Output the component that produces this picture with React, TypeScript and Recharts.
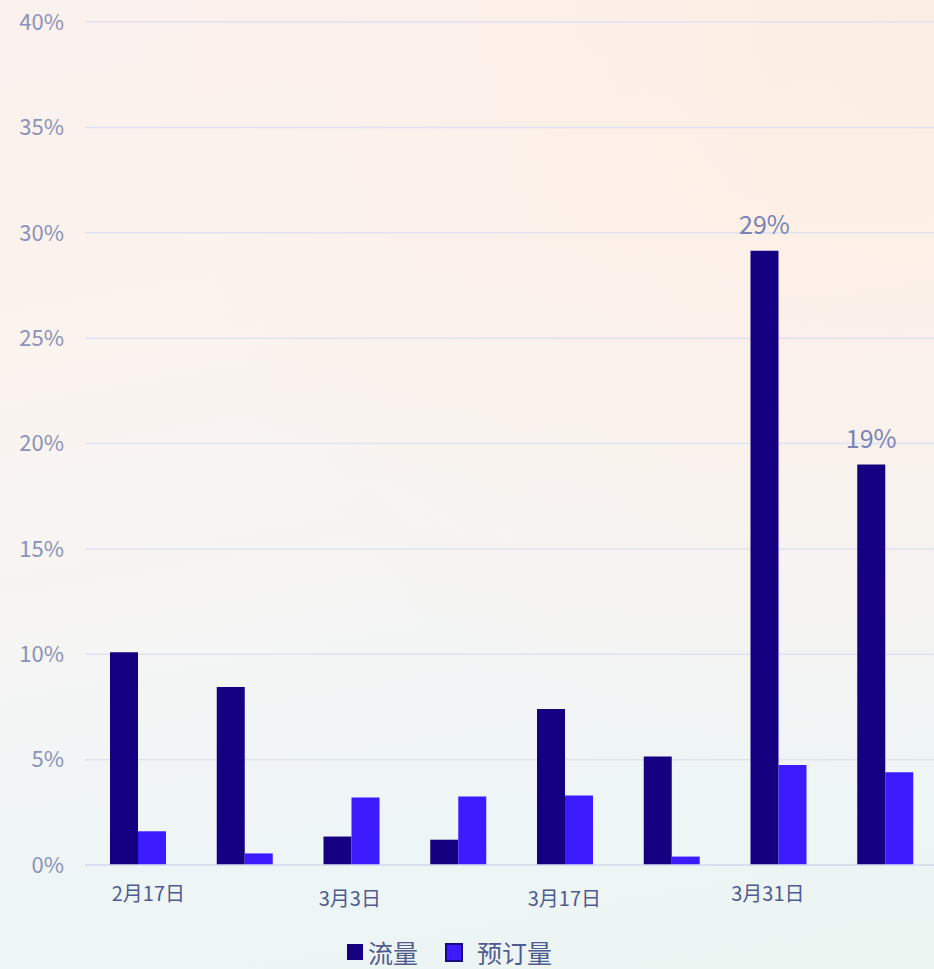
import React from "react";
import { BarChart, Bar, XAxis, YAxis, CartesianGrid, LabelList } from "recharts";

const categories = ["2月17日", "2月24日", "3月3日", "3月10日", "3月17日", "3月24日", "3月31日", "4月7日"];
const traffic = [10.1, 8.45, 1.35, 1.2, 7.4, 5.15, 29.15, 19.0];
const bookings = [1.6, 0.55, 3.2, 3.25, 3.3, 0.4, 4.75, 4.4];
const trafficLabels = ["", "", "", "", "", "", "29%", "19%"];
const yTicks = [0, 5, 10, 15, 20, 25, 30, 35, 40];
const seriesNames = ["流量", "预订量"];

const data = categories.map((c, i) => ({
  name: c,
  traffic: traffic[i],
  bookings: bookings[i],
  label: trafficLabels[i],
}));

const FONT = '"Noto Sans CJK SC", "Noto Sans", sans-serif';
const DARK = "#140080";
const LIGHT = "#3c1cff";

const tickShift: Record<string, { dx: number; dy: number }> = {
  "2月17日": { dx: 10, dy: 0 },
  "3月3日": { dx: -2, dy: 5 },
  "3月17日": { dx: -1, dy: 5 },
  "3月31日": { dx: -11, dy: 0 },
};

const XTick = (props: any) => {
  const { x, y, payload } = props;
  const s = tickShift[payload.value] || { dx: 0, dy: 0 };
  return (
    <text
      x={x + s.dx}
      y={y + 28 + s.dy}
      textAnchor="middle"
      fill="#4f5c90"
      fontSize={20}
      fontFamily={FONT}
    >
      {payload.value}
    </text>
  );
};

const LegendBox = () => (
  <div
    style={{
      position: "absolute",
      left: 347,
      top: 938,
      height: 28,
      display: "flex",
      alignItems: "center",
      fontFamily: FONT,
      fontSize: 25,
      color: "#4f5c90",
      lineHeight: "28px",
    }}
  >
    <span style={{ width: 16, height: 16, background: DARK, display: "inline-block", marginRight: 5 }} />
    <span>{seriesNames[0]}</span>
    <span
      style={{
        width: 14,
        height: 15,
        background: LIGHT,
        border: "2px solid #1a0a80",
        display: "inline-block",
        marginLeft: 27,
        marginRight: 14,
      }}
    />
    <span>{seriesNames[1]}</span>
  </div>
);

export default function App() {
  return (
    <div
      style={{
        position: "fixed",
        left: 0,
        top: 0,
        width: 934,
        height: 969,
        overflow: "hidden",
        background:
          "linear-gradient(170deg, #fbf1ee 0%, #fbf3ee 30%, #f6f5f4 55%, #eef5f6 80%, #ecf5f2 100%)",
      }}
    >
      <div
        style={{
          position: "absolute",
          inset: 0,
          background: "radial-gradient(ellipse at 100% 0%, rgba(253,236,224,0.8) 0%, rgba(253,236,224,0) 60%)",
        }}
      />
      <div style={{ position: "absolute", left: 0, top: 0 }}>
        <BarChart
          width={939}
          height={969}
          data={data}
          margin={{ top: 22, right: 0, left: 0, bottom: 64 }}
          barGap={0}
          barSize={28}
        >
          <CartesianGrid vertical={false} stroke="#dfe2f3" strokeWidth={1.5} />
          <XAxis
            dataKey="name"
            interval={1}
            tickLine={false}
            axisLine={{ stroke: "#d8dcef", strokeWidth: 1.5 }}
            tick={<XTick />}
            height={40}
          />
          <YAxis
            width={85}
            domain={[0, 40]}
            ticks={yTicks}
            tickFormatter={(v: number) => `${v}%`}
            axisLine={false}
            tickLine={false}
            tickMargin={15}
            tick={{ fill: "#8a92ba", fontSize: 22, fontFamily: FONT }}
          />
          <Bar dataKey="traffic" fill={DARK} isAnimationActive={false}>
            <LabelList
              dataKey="label"
              position="top"
              offset={17}
              fill="#7a84b4"
              fontSize={25}
              fontFamily={FONT}
            />
          </Bar>
          <Bar dataKey="bookings" fill={LIGHT} isAnimationActive={false} />
        </BarChart>
      </div>
      <LegendBox />
    </div>
  );
}
